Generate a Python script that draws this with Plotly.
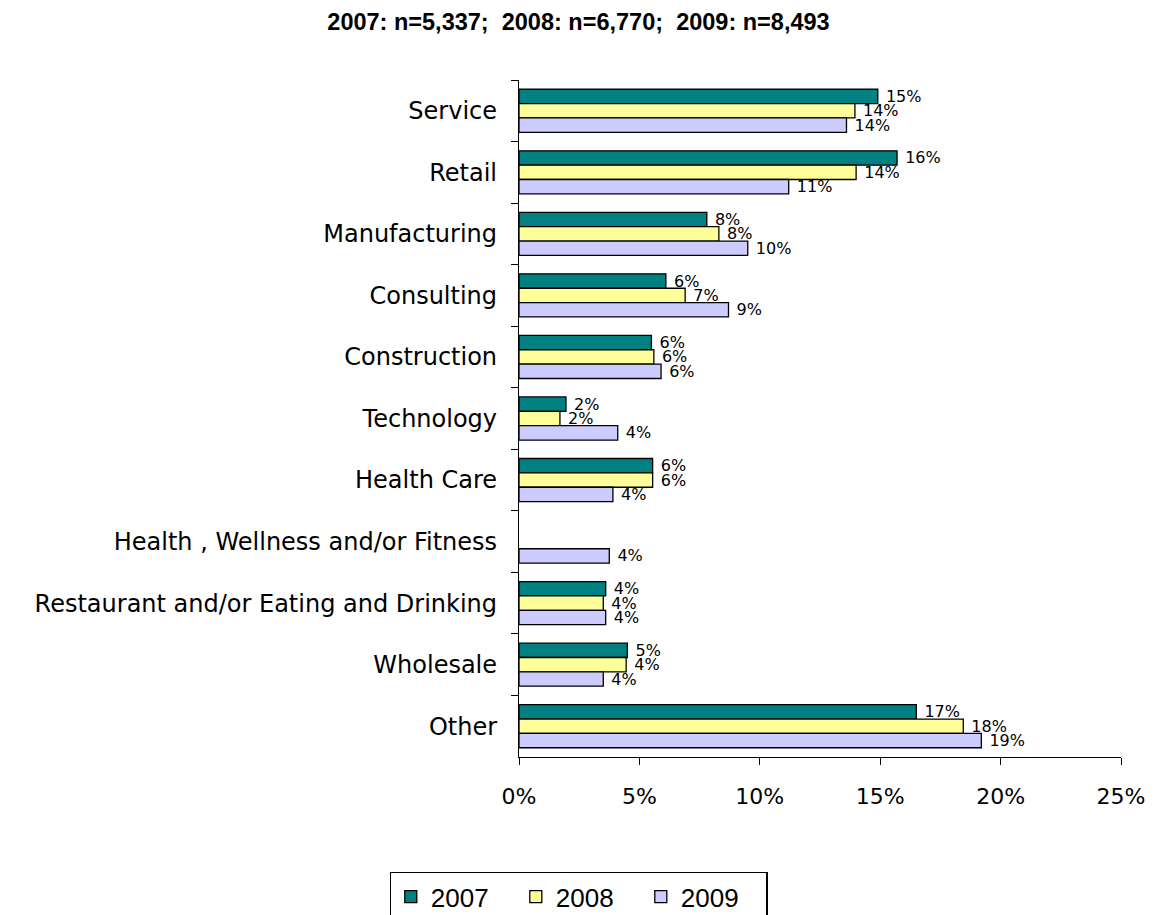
import plotly.graph_objects as go

# Industry share of respondents by survey year (percent)
categories = [
    "Service", "Retail", "Manufacturing", "Consulting", "Construction",
    "Technology", "Health Care", "Health , Wellness and/or Fitness",
    "Restaurant and/or Eating and Drinking", "Wholesale", "Other",
]
pct_2007 = [14.9, 15.7, 7.8, 6.1, 5.5, 1.95, 5.55, None, 3.6, 4.5, 16.5]
pct_2008 = [13.95, 14.0, 8.3, 6.9, 5.6, 1.7, 5.55, None, 3.5, 4.45, 18.45]
pct_2009 = [13.6, 11.2, 9.5, 8.7, 5.9, 4.1, 3.9, 3.75, 3.6, 3.5, 19.2]

series = [
    ("2007", pct_2007, "#008080"),
    ("2008", pct_2008, "#FFFF99"),
    ("2009", pct_2009, "#CCCCFF"),
]

sans = "DejaVu Sans, Liberation Sans, Arial, sans-serif"
arial = "Liberation Sans, Arial, sans-serif"

fig = go.Figure()
for name, vals, color in series:
    fig.add_trace(go.Bar(
        y=categories, x=vals, name=name, orientation="h",
        marker=dict(color=color, line=dict(color="black", width=1.3)),
        texttemplate="\u00a0%{x:.0f}%", textposition="outside",
        constraintext="none",
        textfont=dict(family=sans, size=16, color="black"),
        cliponaxis=False,
    ))

fig.update_layout(
    width=1157, height=915,
    margin=dict(l=519, r=30, t=80, b=158),
    paper_bgcolor="white", plot_bgcolor="white",
    barmode="group", bargap=0.3, bargroupgap=0,
    title=dict(
        text="<b>2007: n=5,337;  2008: n=6,770;  2009: n=8,493</b>",
        x=0.5, xref="container", xanchor="center",
        y=1 - 22 / 915, yanchor="middle",
        font=dict(family=arial, size=23.5, color="black"),
    ),
    showlegend=True,
    legend=dict(
        orientation="h", xref="container", yref="container",
        x=0.5, xanchor="center", y=1 - 872 / 915, yanchor="top",
        bordercolor="black", borderwidth=1.3,
        font=dict(family=arial, size=26, color="black"),
        traceorder="normal", itemwidth=30,
        entrywidth=80, entrywidthmode="pixels",
    ),
    font=dict(family=sans, color="black"),
)

fig.update_xaxes(
    range=[0, 25], dtick=5, ticksuffix="%",
    showline=True, linecolor="black", linewidth=1.3,
    ticks="outside", ticklen=7, tickcolor="black",
    ticklabelstandoff=12,
    showgrid=False, zeroline=False,
    tickfont=dict(family=sans, size=22, color="black"),
)
fig.update_yaxes(
    autorange="reversed", type="category", tickson="boundaries",
    showline=True, linecolor="black", linewidth=1.3,
    ticks="outside", ticklen=7, tickcolor="black",
    ticklabelstandoff=16,
    showgrid=False, zeroline=False,
    tickfont=dict(family=sans, size=24, color="black"),
)

fig.write_html("out.html")
